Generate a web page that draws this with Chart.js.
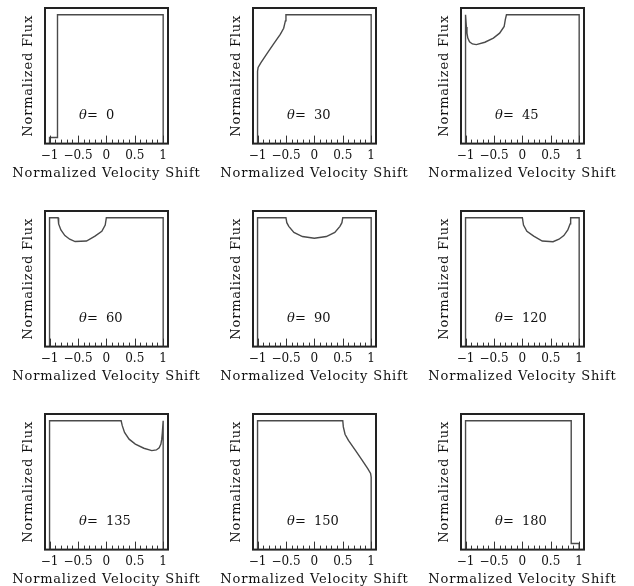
<!DOCTYPE html>
<html>
<head>
<meta charset="utf-8">
<script src="https://cdn.jsdelivr.net/npm/chart.js"></script>
<style>
html, body { margin: 0; padding: 0; background: #fff; }
#grid { position: relative; width: 634px; height: 586px; overflow: hidden; }
.panel { position: absolute; width: 208px; height: 203px; }
</style>
</head>
<body>
<div id="grid"></div>
<script>
// angles of the nine panels
const angulos = [0, 30, 45, 60, 90, 120, 135, 150, 180];

// line profiles: velocity shift (v) and flux (f)
const v0 = [-1, -1, -0.86, -0.86, 1, 1];
const f0 = [-0.05, 0, 0, 1, 1, -0.05];

const v30 = [-1, -1, -0.99, -0.94, -0.84, -0.72, -0.60, -0.54, -0.51, -0.50, 1, 1];
const f30 = [-0.05, 0.54, 0.57, 0.61, 0.68, 0.76, 0.84, 0.89, 0.95, 1, 1, -0.05];

const v45 = [-1, -1, -0.985, -0.975, -0.96, -0.93, -0.88, -0.81, -0.66, -0.51, -0.40, -0.32, -0.30, -0.28, 1, 1];
const f45 = [-0.05, 1, 0.90, 0.85, 0.81, 0.78, 0.762, 0.757, 0.776, 0.81, 0.85, 0.905, 0.96, 1, 1, -0.05];

const v60 = [-1, -1, -0.85, -0.84, -0.80, -0.73, -0.645, -0.55, -0.35, -0.20, -0.08, -0.02, 0, 1, 1];
const f60 = [-0.05, 1, 1, 0.95, 0.90, 0.855, 0.825, 0.806, 0.81, 0.85, 0.89, 0.94, 1, 1, -0.05];

const v90 = [-1, -1, -0.5, -0.485, -0.45, -0.36, -0.21, 0, 0.21, 0.36, 0.45, 0.485, 0.5, 1, 1];
const f90 = [-0.05, 1, 1, 0.96, 0.93, 0.88, 0.847, 0.833, 0.847, 0.88, 0.93, 0.96, 1, 1, -0.05];

const v120 = [-1, -1, 0, 0.02, 0.08, 0.20, 0.35, 0.54, 0.645, 0.73, 0.80, 0.84, 0.85, 1, 1];
const f120 = [-0.05, 1, 1, 0.94, 0.89, 0.85, 0.81, 0.805, 0.825, 0.855, 0.90, 0.95, 1, 1, -0.05];

const v135 = [-1, -1, 0.26, 0.28, 0.32, 0.40, 0.51, 0.66, 0.80, 0.88, 0.93, 0.96, 0.975, 0.985, 1, 1];
const f135 = [-0.05, 1, 1, 0.96, 0.905, 0.85, 0.81, 0.776, 0.757, 0.762, 0.78, 0.81, 0.85, 0.90, 1, -0.05];

const v150 = [-1, -1, 0.50, 0.51, 0.54, 0.60, 0.72, 0.84, 0.94, 0.99, 1, 1];
const f150 = [-0.05, 1, 1, 0.95, 0.89, 0.84, 0.76, 0.68, 0.61, 0.57, 0.54, -0.05];

const v180 = [-1, -1, 0.86, 0.86, 1, 1];
const f180 = [-0.05, 1, 1, 0, 0, -0.05];

const perfiles = [[v0, f0], [v30, f30], [v45, f45], [v60, f60], [v90, f90],
                  [v120, f120], [v135, f135], [v150, f150], [v180, f180]];

// tick labels of the velocity axis
const ticksX = [-1, -0.5, 0, 0.5, 1];
const etiquetasX = ['\u22121', '\u22120.5', '0', '0.5', '1'];

const tituloX = 'Normalized Velocity Shift';
const tituloY = 'Normalized Flux';

const FUENTE = '"DejaVu Serif", serif';

// frame, inward ticks, axis titles and the theta label
const marcoPlugin = {
    id: 'marco',
    afterDatasetsDraw(chart, args, opts) {
        const { ctx, chartArea: a } = chart;
        const x = chart.scales.x, y = chart.scales.y;
        ctx.save();
        ctx.strokeStyle = '#222';
        ctx.lineWidth = 2;
        ctx.strokeRect(a.left, a.top, a.right - a.left, a.bottom - a.top);
        ctx.lineWidth = 1;
        ctx.strokeStyle = '#333';
        for (let i = -10; i <= 10; i++) {
            const px = Math.round(x.getPixelForValue(i / 10)) + 0.5;
            const largo = i % 5 === 0 ? 8 : 4;
            ctx.beginPath();
            ctx.moveTo(px, a.bottom);
            ctx.lineTo(px, a.bottom - largo);
            ctx.stroke();
        }
        ctx.fillStyle = '#111';
        ctx.textBaseline = 'middle';
        ctx.textAlign = 'center';
        ctx.font = '13px ' + FUENTE;
        ctx.letterSpacing = '0.8px';
        // x title, wider than the axis itself
        ctx.fillText(tituloX, (a.left + a.right) / 2, a.bottom + 30);
        // y title, rotated
        ctx.save();
        ctx.translate(a.left - 16.5, (a.top + a.bottom) / 2);
        ctx.rotate(-Math.PI / 2);
        ctx.fillText(tituloY, 0, 0);
        ctx.restore();
        ctx.letterSpacing = '0px';

        const lx = x.getPixelForValue(opts.lx);
        const ly = y.getPixelForValue(opts.ly);
        ctx.textAlign = 'left';
        ctx.font = 'italic 13px ' + FUENTE;
        ctx.fillText('\u03B8', lx, ly);
        const w = ctx.measureText('\u03B8').width;
        ctx.font = '13px ' + FUENTE;
        ctx.fillText('=  ' + opts.angulo, lx + w, ly);
        ctx.restore();
    }
};

function crearPanel(indice) {
    const grid = document.getElementById('grid');
    const col = indice % 3, fila = Math.floor(indice / 3);
    const div = document.createElement('div');
    div.className = 'panel';
    div.style.left = (col * 208) + 'px';
    div.style.top = (fila * 203) + 'px';
    const canvas = document.createElement('canvas');
    canvas.width = 208;
    canvas.height = 203;
    div.appendChild(canvas);
    grid.appendChild(div);

    const [vs, fs] = perfiles[indice];
    const puntos = vs.map((v, i) => ({ x: v, y: fs[i] }));

    new Chart(canvas.getContext('2d'), {
        type: 'line',
        data: {
            datasets: [{
                data: puntos,
                borderColor: '#4a4a4a',
                borderWidth: 1.4,
                pointRadius: 0,
                tension: 0,
                fill: false
            }]
        },
        options: {
            responsive: false,
            animation: false,
            events: [],
            layout: { padding: { left: 45, right: 40, top: 8, bottom: 35 } },
            plugins: {
                legend: { display: false },
                tooltip: { enabled: false },
                marco: { lx: -0.48, ly: 0.18, angulo: angulos[indice] }
            },
            scales: {
                x: {
                    type: 'linear',
                    min: -1.08,
                    max: 1.085,
                    afterBuildTicks: (s) => { s.ticks = ticksX.map(v => ({ value: v })); },
                    grid: { display: false, drawTicks: false },
                    border: { display: false },
                    ticks: {
                        padding: 5,
                        maxRotation: 0,
                        autoSkip: false,
                        color: '#111',
                        font: { family: FUENTE, size: 12 },
                        callback: (val) => etiquetasX[ticksX.indexOf(val)]
                    },
                    title: { display: false }
                },
                y: {
                    type: 'linear',
                    display: false,
                    min: -0.05,
                    max: 1.055
                }
            }
        },
        plugins: [marcoPlugin]
    });
}

angulos.forEach((a, i) => crearPanel(i));
</script>
</body>
</html>
